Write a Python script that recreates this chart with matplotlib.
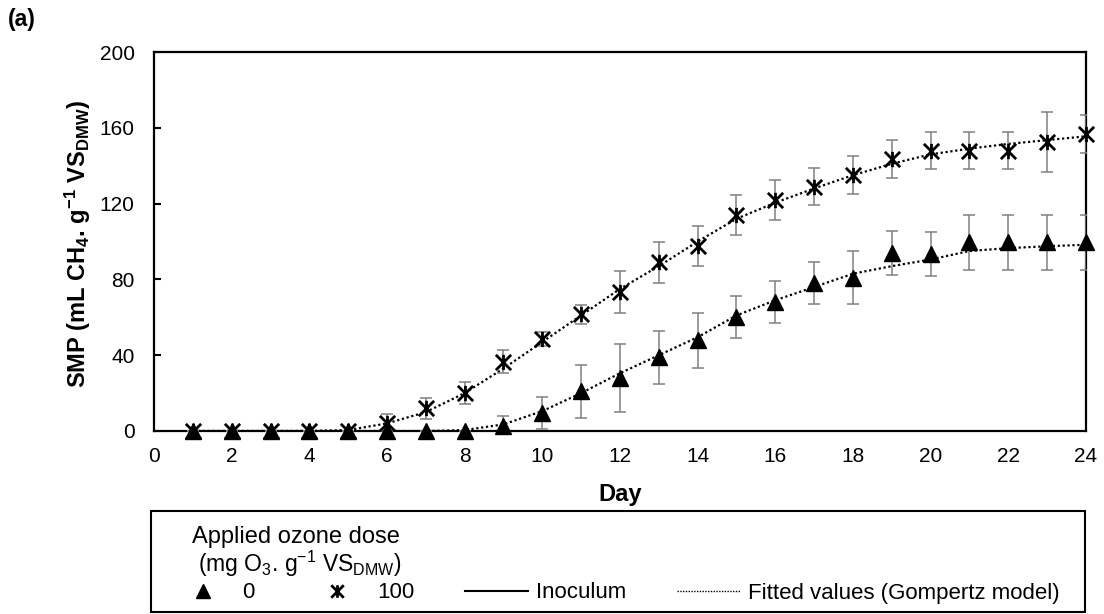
import numpy as np
import matplotlib
matplotlib.use("Agg")
import matplotlib.pyplot as plt
from matplotlib.path import Path
from matplotlib.lines import Line2D
from matplotlib.patches import Rectangle

plt.rcParams['font.family'] = ['Liberation Sans', 'DejaVu Sans']
plt.rcParams['mathtext.default'] = 'regular'

# SMP data (mL CH4 / g VS_DMW)
day = np.arange(1, 25)
smp_0 = [0, 0, 0, 0, 0, 0, 0, 0, 2.5, 9.5, 21, 28, 39, 48, 60, 68, 78, 81,
         94, 93.5, 99.5, 99.5, 99.5, 99.5]
err_0 = [0, 0, 0, 0, 0, 0, 0, 0, 5.5, 8.5, 14, 18, 14, 14.5, 11, 11, 11, 14,
         11.5, 11.5, 14.5, 14.5, 14.5, 14.5]
fit_0 = [0, 0, 0, 0, 0, 0, 0, 0.5, 3.5, 10.5, 20, 30.5, 40, 49.5, 61, 69, 76,
         83, 87, 90.5, 95, 96.5, 97.5, 98.3]

smp_100 = [0, 0, 0, 0, 0, 4, 12, 20, 36.5, 48.5, 61.5, 73.5, 89, 97.5, 114,
           122, 129, 135, 143.5, 148, 148, 148, 152.5, 156.5]
err_100 = [0, 0, 0, 0, 0, 5, 5.5, 6, 6, 3.5, 5, 11, 11, 10.5, 10.5, 10.5, 10,
           10, 10, 10, 10, 10, 16, 10]
fit_100 = [0, 0, 0, 0, 0.5, 4, 10, 20, 33, 47, 61, 75, 87, 100, 112, 120.5,
           128, 135, 141, 146, 149, 151.5, 153.5, 155.5]

# excel-like "star" marker: an X with a vertical bar
star = Path([(-1, -1), (1, 1), (-1, 1), (1, -1), (0, -1), (0, 1)],
            [Path.MOVETO, Path.LINETO, Path.MOVETO, Path.LINETO,
             Path.MOVETO, Path.LINETO])

fig = plt.figure(figsize=(11.04, 6.14), dpi=100)
ax = fig.add_axes([154 / 1104, 1 - 431 / 614, 932 / 1104, 379 / 614])

dots = (0, (1, 1.2))
ax.plot(day, fit_0, color='k', lw=1.6, ls=dots, zorder=2)
ax.plot(day, fit_100, color='k', lw=1.6, ls=dots, zorder=2)

ax.errorbar(day, smp_0, yerr=err_0, fmt='none', ecolor='#808080',
            elinewidth=1.1, capsize=4.5, capthick=1.1, zorder=3)
ax.errorbar(day, smp_100, yerr=err_100, fmt='none', ecolor='#808080',
            elinewidth=1.1, capsize=4.5, capthick=1.1, zorder=3)

ax.plot(day, smp_0, ls='none', marker='^', ms=11, color='k', zorder=4,
        clip_on=False)
ax.plot(day, smp_100, ls='none', marker=star, ms=11, mew=2, color='k',
        zorder=4, clip_on=False)

ax.set_xlim(0, 24)
ax.set_ylim(0, 200)
ax.set_xticks(np.arange(0, 25, 2))
ax.set_yticks(np.arange(0, 201, 40))
ax.tick_params(axis='y', direction='in', length=5, width=1.5, pad=14,
               labelsize=15)
ax.tick_params(axis='x', length=0, pad=11.5, labelsize=15)
for s in ax.spines.values():
    s.set_linewidth(1.6)

ax.set_xlabel('Day', fontsize=17, fontweight='bold')
ax.xaxis.set_label_coords(0.5, -0.137)
ax.set_ylabel('SMP (mL CH$_4$. g$^{-1}$ VS$_{DMW}$)', fontsize=17,
              fontweight='bold')
ax.yaxis.set_label_coords(-0.0655, 0.493)

fig.text(8 / 1104, 1 - 8 / 614, '(a)', va='top', ha='left', fontsize=16.5,
         fontweight='bold')

# legend box below the plot
fig.add_artist(Rectangle((151 / 1104, 1 - 612 / 614), 934 / 1104, 101 / 614,
                         transform=fig.transFigure, fill=False, lw=1.5,
                         ec='k'))
fig.text(192 / 1104, 1 - 543 / 614, 'Applied ozone dose', va='baseline',
         ha='left', fontsize=17)
fig.text(198 / 1104, 1 - 572 / 614, '(mg O$_3$. g$^{-1}$ VS$_{DMW}$)',
         va='baseline', ha='left', fontsize=16.5)

handles = [
    Line2D([], [], ls='none', marker='^', ms=10, color='k'),
    Line2D([], [], ls='none', marker=star, ms=9, mew=2, color='k'),
    Line2D([], [], color='k', lw=1.5),
    Line2D([], [], color='k', lw=1, ls=(0, (1, 1))),
]
labels = ['0', '100', 'Inoculum', 'Fitted values (Gompertz model)']
fig.legend(handles, labels, ncol=4, loc='center left',
           bbox_to_anchor=(171.5 / 1104, 1 - 593 / 614), frameon=False,
           fontsize=16, handlelength=2.84, handletextpad=0.35,
           columnspacing=2.3, borderpad=0, borderaxespad=0)

fig.savefig('out.png', dpi=100)
